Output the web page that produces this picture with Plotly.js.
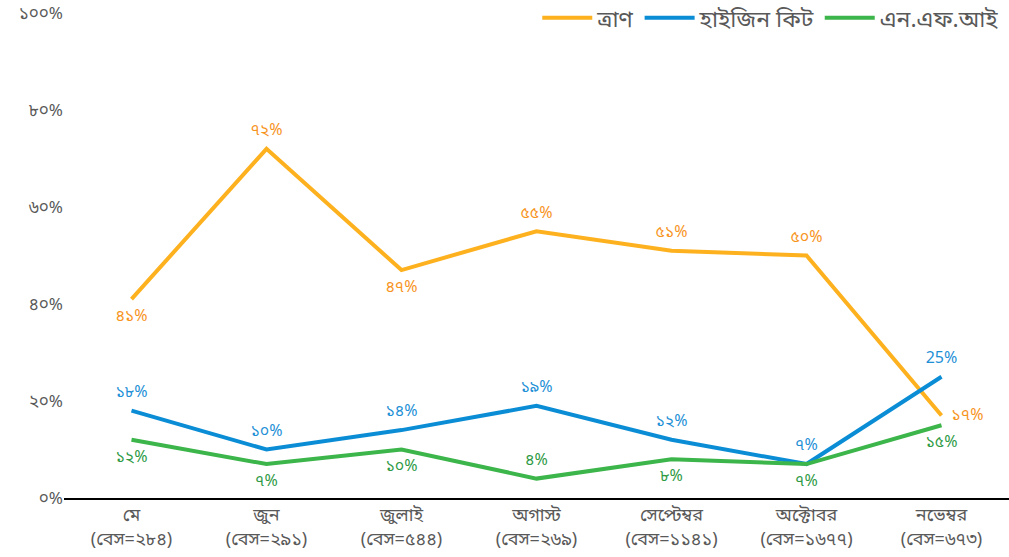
<!DOCTYPE html>
<html><head><meta charset="utf-8">
<script src="https://cdn.plot.ly/plotly-3.0.1.min.js"></script>
<style>html,body{margin:0;padding:0;background:#fff}#chart{width:1009px;height:557px}</style>
</head><body><div id="chart"></div>
<script>
const categories = ["মে<br>(বেস=২৮৪)","জুন<br>(বেস=২৯১)","জুলাই<br>(বেস=৫৪৪)","অগাস্ট<br>(বেস=২৬৯)","সেপ্টেম্বর<br>(বেস=১১৪১)","অক্টোবর<br>(বেস=১৬৭৭)","নভেম্বর<br>(বেস=৬৭৩)"];
const seriesNames = ["ত্রাণ","হাইজিন কিট","এন.এফ.আই"];
const reliefValues = [41,72,47,55,51,50,17];
const hygieneValues = [18,10,14,19,12,7,25];
const nfiValues = [12,7,10,4,8,7,15];
const reliefLabels = ["৪১%","৭২%","৪৭%","৫৫%","৫১%","৫০%","১৭%"];
const hygieneLabels = ["১৮%","১০%","১৪%","১৯%","১২%","৭%","25%"];
const nfiLabels = ["১২%","৭%","১০%","৪%","৮%","৭%","১৫%"];
const yTickVals = [0,20,40,60,80,100];
const yTickText = ["০%","২০%","৪০%","৬০%","৮০%","১০০%"];

const font = "'Noto Sans', 'Noto Sans Bengali', sans-serif";
const xs = categories.map((_,i)=>i);
function tr(name, y, text, pos, lineColor, textColor){
  return {type:'scatter', mode:'lines+markers+text', name:name, x:xs, y:y, text:text,
    textposition:pos, textfont:{family:font,size:16,color:textColor},
    marker:{size:14,color:'rgba(0,0,0,0)',line:{width:0}},
    line:{color:lineColor,width:4}, hoverinfo:'skip', cliponaxis:false};
}
const data = [
  tr(seriesNames[0], reliefValues, reliefLabels,
     ["bottom center","top center","bottom center","top center","top center","top center","middle right"], "#FDB11F", "#F7941D"),
  tr(seriesNames[1], hygieneValues, hygieneLabels,
     ["top center","top center","top center","top center","top center","top center","top center"], "#0B8DD6", "#1E90D6"),
  tr(seriesNames[2], nfiValues, nfiLabels,
     ["bottom center","bottom center","bottom center","top center","bottom center","bottom center","bottom center"], "#3CB54A", "#2E9A45")
];
const layout = {
  width:1009, height:557,
  margin:{l:64,r:0,t:13,b:59,autoexpand:false},
  paper_bgcolor:'#fff', plot_bgcolor:'#fff',
  font:{family:font,color:'#595959',size:16},
  showlegend:true,
  legend:{orientation:'h', x:0.995, xanchor:'right', y:0.99, yanchor:'middle', font:{size:23,color:'#595959'}, bgcolor:'rgba(0,0,0,0)', itemwidth:50},
  xaxis:{tickmode:'array', tickvals:xs, ticktext:categories, range:[-0.5,6.5], showgrid:false, zeroline:false,
    showline:true, linecolor:'#000', linewidth:1.5, ticks:'', tickfont:{size:18,color:'#595959'}},
  yaxis:{range:[0,100], tickmode:'array', tickvals:yTickVals, ticktext:yTickText, showgrid:false, zeroline:false,
    showline:false, ticks:'', tickfont:{size:17,color:'#595959'}, ticklen:0}
};
Plotly.newPlot('chart', data, layout, {displayModeBar:false, staticPlot:true});
</script></body></html>
